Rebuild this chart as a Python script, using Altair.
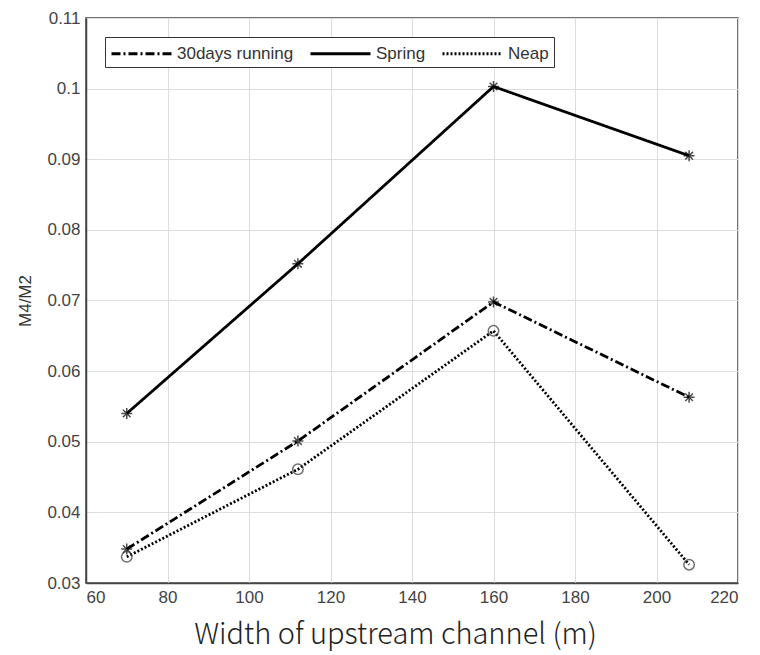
import altair as alt
import pandas as pd

widths = [70, 112, 160, 208]
running30 = [0.0348, 0.0501, 0.0698, 0.0563]
spring = [0.0540, 0.0752, 0.1003, 0.0905]
neap = [0.0337, 0.0461, 0.0657, 0.0326]
series_names = ["30days running", "Spring", "Neap"]
x_ticks = [60, 80, 100, 120, 140, 160, 180, 200, 220]
y_ticks = [0.03, 0.04, 0.05, 0.06, 0.07, 0.08, 0.09, 0.1, 0.11]

rows = []
for name, vals in zip(series_names, [running30, spring, neap]):
    for w, v in zip(widths, vals):
        rows.append({"width": w, "ratio": v, "series": name})
df = pd.DataFrame(rows)

x = alt.X(
    "width:Q",
    scale=alt.Scale(domain=[60, 220], nice=False, zero=False),
    axis=alt.Axis(
        values=x_ticks,
        title="Width of upstream channel (m)",
        titleFont="Noto Sans CJK JP",
        titleFontSize=29,
        titleFontWeight=300,
        titleColor="#222222",
        titlePadding=15,
        titleX=309,
    ),
)
y = alt.Y(
    "ratio:Q",
    scale=alt.Scale(domain=[0.03, 0.11], nice=False, zero=False),
    axis=alt.Axis(
        values=y_ticks,
        format="~g",
        title="M4/M2",
        titleFontSize=17,
        titleFontWeight="normal",
        titleColor="#333333",
        titlePadding=12,
    ),
)

dash = alt.StrokeDash(
    "series:N",
    scale=alt.Scale(domain=series_names, range=[[9, 3, 2, 3], [1, 0], [2, 2]]),
    sort=series_names,
    legend=alt.Legend(
        title=None,
        orient="none",
        legendX=19,
        legendY=19,
        direction="horizontal",
        symbolType="M-1,0L5,0",
        symbolSize=400,
        symbolStrokeWidth=3,
        symbolStrokeColor="black",
        symbolFillColor="transparent",
        labelFontSize=17,
        labelColor="#333333",
        labelOffset=44,
        columnPadding=10,
        padding=5,
        strokeColor="#333333",
        fillColor="white",
    ),
)

lines = alt.Chart(df).mark_line(color="black", strokeWidth=2.8).encode(
    x=x, y=y, strokeDash=dash
)

plus = alt.Chart(df).transform_filter(
    alt.datum.series != "Neap"
).mark_point(
    shape="M-1,0L1,0M0,-1L0,1M-0.7,-0.7L0.7,0.7M-0.7,0.7L0.7,-0.7",
    filled=False,
    color="black",
    size=120,
    strokeWidth=1.5,
).encode(x=x, y=y)

circles = alt.Chart(df).transform_filter(
    alt.datum.series == "Neap"
).mark_point(
    shape="circle", filled=False, color="#333333", size=110, strokeWidth=1.5
).encode(x=x, y=y)

chart = (
    alt.layer(lines, plus, circles)
    .properties(
        width=652,
        height=565,
        padding={"left": 8, "top": 1, "right": 5, "bottom": 5},
    )
    .configure_view(stroke="#444444", strokeWidth=1.5)
    .configure_axis(
        labelFont="Liberation Sans",
        titleFont="Liberation Sans",
        labelFontSize=17,
        labelColor="#444444",
        gridColor="#dddddd",
        gridWidth=1,
        domainColor="#444444",
        domainWidth=1.5,
        ticks=False,
        labelPadding=6,
    )
)

chart.save("out.html", embed_options={"renderer": "svg", "actions": False})
